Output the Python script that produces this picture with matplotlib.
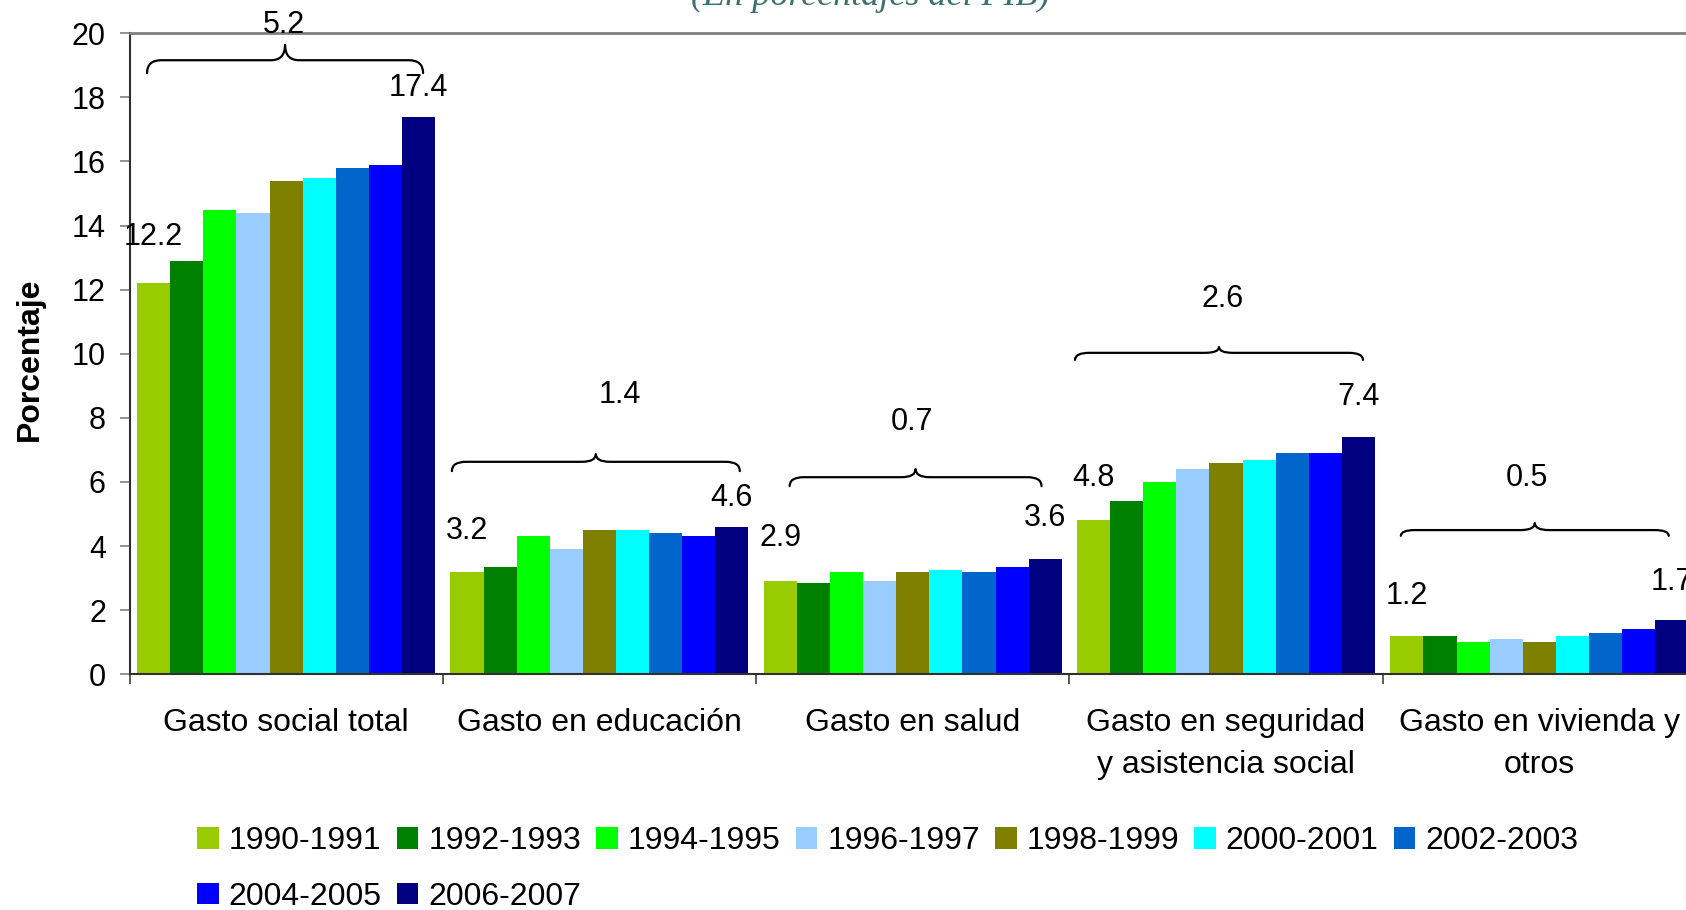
import matplotlib
matplotlib.use("Agg")
import numpy as np
import matplotlib.pyplot as plt
from matplotlib.path import Path
from matplotlib.patches import PathPatch

plt.rcParams['font.family'] = ['Liberation Sans', 'DejaVu Sans']

categories = ["Gasto social total", "Gasto en educación", "Gasto en salud",
              "Gasto en seguridad\ny asistencia social", "Gasto en vivienda y\notros"]
periods = ["1990-1991", "1992-1993", "1994-1995", "1996-1997", "1998-1999",
           "2000-2001", "2002-2003", "2004-2005", "2006-2007"]
colors = ["#99CC00", "#008000", "#00FF00", "#99CCFF", "#808000",
          "#00FFFF", "#0066CC", "#0000FF", "#000080"]

# one list per category, values per period (% del PIB)
gasto_total = [12.2, 12.9, 14.5, 14.4, 15.4, 15.5, 15.8, 15.9, 17.4]
gasto_educacion = [3.2, 3.35, 4.3, 3.9, 4.5, 4.5, 4.4, 4.3, 4.6]
gasto_salud = [2.9, 2.85, 3.2, 2.9, 3.2, 3.25, 3.2, 3.35, 3.6]
gasto_seguridad = [4.8, 5.4, 6.0, 6.4, 6.6, 6.7, 6.9, 6.9, 7.4]
gasto_vivienda = [1.2, 1.2, 1.0, 1.1, 1.0, 1.2, 1.3, 1.4, 1.7]
values = np.array([gasto_total, gasto_educacion, gasto_salud,
                   gasto_seguridad, gasto_vivienda])

# layout of the brace annotations (x relative to category centre, y in data units)
brace_x = [(-0.444, 0.437), (-0.471, 0.448), (-0.393, 0.411), (-0.482, 0.437), (-0.442, 0.413)]
brace_y = [(18.76, 19.16, 19.64), (6.34, 6.63, 6.87), (5.87, 6.15, 6.40),
           (9.81, 10.03, 10.21), (4.32, 4.50, 4.72)]
brace_label = [(-0.007, 20.26), (0.066, 8.72), (-0.003, 7.88), (-0.011, 11.71), (-0.04, 6.12)]
end_dy = [(1.43, 0.89), (1.26, 0.9), (1.35, 1.29), (1.32, 1.25), (1.24, 1.18)]

fig = plt.figure(figsize=(16.86, 9.10), dpi=100)
ax = fig.add_axes([129.5 / 1686, 1 - 674.3 / 910, 5 * 313.3 / 1686, 641 / 910])

n = len(periods)
w = 0.1057
x = np.arange(len(categories))
for j in range(n):
    ax.bar(x + (j - (n - 1) / 2) * w, values[:, j], width=w, color=colors[j],
           label=periods[j], linewidth=0)

ax.set_xlim(-0.5, 4.5)
ax.set_ylim(0, 20)
ax.set_yticks(np.arange(0, 21, 2))
ax.tick_params(axis='y', labelsize=22, length=7, width=1.2, color='#808080', pad=10)
ax.set_xticks(np.arange(-0.5, 4.6, 1))
ax.set_xticklabels([])
ax.tick_params(axis='x', which='major', length=7, width=1.2, color='#404040')
ax.set_xticks(x, minor=True)
ax.set_xticklabels(categories, minor=True, fontsize=23, linespacing=1.55)
ax.tick_params(axis='x', which='minor', length=0, pad=24)

for s in ['left', 'bottom']:
    ax.spines[s].set_color('#303030')
    ax.spines[s].set_linewidth(1.5)
ax.spines['top'].set_color('#808080')
ax.spines['top'].set_linewidth(2)
ax.spines['right'].set_visible(False)

# first/last value labels and braces with the change between them
for i in range(len(categories)):
    first, last = values[i, 0], values[i, -1]
    x_first = i + (0 - (n - 1) / 2) * w
    x_last = i + (n - 1 - (n - 1) / 2) * w
    ax.text(x_first, first + end_dy[i][0], f"{first:.1f}", ha='center', va='center',
            fontsize=22, clip_on=False)
    ax.text(x_last, last + end_dy[i][1], f"{last:.1f}", ha='center', va='center',
            fontsize=22, clip_on=False)

    x0, x1 = i + brace_x[i][0], i + brace_x[i][1]
    xm = (x0 + x1) / 2
    y_tip, y_flat, y_mid = brace_y[i]
    r = 0.045
    verts = [(x0, y_tip), (x0, y_flat), (x0 + r, y_flat),
             (xm - r, y_flat), (xm, y_flat), (xm, y_mid),
             (xm, y_flat), (xm + r, y_flat),
             (x1 - r, y_flat), (x1, y_flat), (x1, y_tip)]
    codes = [Path.MOVETO, Path.CURVE3, Path.CURVE3,
             Path.LINETO, Path.CURVE3, Path.CURVE3,
             Path.CURVE3, Path.CURVE3,
             Path.LINETO, Path.CURVE3, Path.CURVE3]
    ax.add_patch(PathPatch(Path(verts, codes), fill=False, lw=1.6, color='black',
                           clip_on=False, capstyle='round', joinstyle='round'))
    diff = round(last, 1) - round(first, 1)
    ax.text(i + brace_label[i][0], brace_label[i][1], f"{diff:.1f}", ha='center',
            va='center', fontsize=22, clip_on=False)

fig.text(30 / 1686, 1 - 359 / 910, "Porcentaje", rotation=90, ha='center', va='center',
         fontsize=23, fontweight='bold')

fig.text(870 / 1686, 1 - 5 / 910, "(En porcentajes del PIB)", ha='center', va='baseline',
         fontsize=26, style='italic', family='Liberation Serif', color='#3A7070')

handles, labels = ax.get_legend_handles_labels()
order = [0, 7, 1, 8, 2, 3, 4, 5, 6]
fig.legend([handles[k] for k in order], [labels[k] for k in order], ncol=7,
           loc='upper left', bbox_to_anchor=(197 / 1686, 1 - 826 / 910),
           frameon=False, fontsize=23, borderpad=0, borderaxespad=0,
           handlelength=0.68, handleheight=0.66, handletextpad=0.31,
           columnspacing=0.47, labelspacing=0.8)

fig.savefig("out.png", dpi=100)
